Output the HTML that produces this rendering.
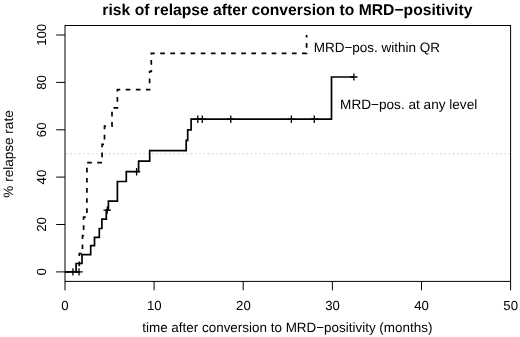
<!DOCTYPE html>
<html><head><meta charset="utf-8">
<style>
html,body{margin:0;padding:0;background:#fff;}
body{width:520px;height:337px;overflow:hidden;}
svg{display:block;will-change:transform;text-rendering:geometricPrecision;filter:blur(0.3px);}
text{font-family:"Liberation Sans",sans-serif;fill:#000;}
</style></head>
<body>
<svg width="520" height="337" viewBox="0 0 520 337">
<rect width="520" height="337" fill="#fff"/>
<!-- 50% reference line -->
<line x1="66" y1="153.6" x2="510" y2="153.6" stroke="#d8d8d8" stroke-width="1.2" stroke-dasharray="1.4 2.9"/>
<!-- box -->
<rect x="65" y="25.5" width="445.6" height="255.9" fill="none" stroke="#000" stroke-width="1"/>
<!-- ticks -->
<g stroke="#000" stroke-width="1">
<line x1="56.2" y1="271.9" x2="65" y2="271.9"/>
<line x1="56.2" y1="224.5" x2="65" y2="224.5"/>
<line x1="56.2" y1="177.1" x2="65" y2="177.1"/>
<line x1="56.2" y1="129.8" x2="65" y2="129.8"/>
<line x1="56.2" y1="82.4" x2="65" y2="82.4"/>
<line x1="56.2" y1="35.0" x2="65" y2="35.0"/>
<line x1="65" y1="281.4" x2="65" y2="290.3"/>
<line x1="154.1" y1="281.4" x2="154.1" y2="290.3"/>
<line x1="243.2" y1="281.4" x2="243.2" y2="290.3"/>
<line x1="332.4" y1="281.4" x2="332.4" y2="290.3"/>
<line x1="421.5" y1="281.4" x2="421.5" y2="290.3"/>
<line x1="510.6" y1="281.4" x2="510.6" y2="290.3"/>
</g>
<!-- dashed curve: MRD-pos. within QR -->
<path d="M65,271.9 H79.3 V253.7 H82.5 V235.5 H83.6 V217.2 H86.9 V162.6 H102.1 V144.4 H104.5 V126.1 H112 V107.9 H117.4 V89.7 H149.6 V71.5 H151.3 V53.3 H306.6 V35" fill="none" stroke="#000" stroke-width="1.7" stroke-dasharray="4.7 5.43" stroke-dashoffset="0.23"/>
<!-- solid curve: MRD-pos. at any level -->
<path d="M65,271.9 H76.1 V263.5 H82 V254.6 H90.7 V245.7 H94.5 V237.4 H99.3 V228.5 H101.9 V219.2 H106.3 V210.1 H108.4 V201.1 H117.4 V181.5 H126.3 V171.7 H138.6 V161.1 H149.7 V150.6 H186.2 V140.4 H187.7 V129.8 H191.1 V119.2 H331.5 V77 H353.9" fill="none" stroke="#000" stroke-width="1.7"/>
<!-- censor marks -->
<g stroke="#000" stroke-width="1.3">
<path d="M72.9,268.2V275.6M69.2,271.9H76.6"/>
<path d="M79,268.2V275.6M75.3,271.9H82.7"/>
<path d="M107.2,206.4V213.8M103.5,210.1H110.9"/>
<path d="M136.6,168V175.4M132.9,171.7H140.3"/>
<path d="M197.8,115.5V122.9M194.1,119.2H201.5"/>
<path d="M202.3,115.5V122.9M198.6,119.2H206"/>
<path d="M230.8,115.5V122.9M227.1,119.2H234.5"/>
<path d="M291.4,115.5V122.9M287.7,119.2H295.1"/>
<path d="M314.3,115.5V122.9M310.6,119.2H318"/>
<path d="M353.9,73.4V80.6M350.3,77H357.5"/>
</g>
<!-- title -->
<text x="287.4" y="14.6" font-size="15.7" font-weight="bold" text-anchor="middle">risk of relapse after conversion to MRD&#8722;positivity</text>
<!-- x tick labels -->
<g font-size="13.2" text-anchor="middle">
<text x="65" y="310.4">0</text>
<text x="154.3" y="310.4">10</text>
<text x="243.4" y="310.4">20</text>
<text x="332.5" y="310.4">30</text>
<text x="421.6" y="310.4">40</text>
<text x="510.7" y="310.4">50</text>
</g>
<!-- y tick labels -->
<g font-size="13.2" text-anchor="middle">
<text transform="translate(45.6,271.9) rotate(-90)">0</text>
<text transform="translate(45.6,224.5) rotate(-90)">20</text>
<text transform="translate(45.6,177.1) rotate(-90)">40</text>
<text transform="translate(45.6,129.8) rotate(-90)">60</text>
<text transform="translate(45.6,82.4) rotate(-90)">80</text>
<text transform="translate(45.6,34.8) rotate(-90)">100</text>
</g>
<!-- axis titles -->
<text x="287.3" y="331.7" font-size="13.45" text-anchor="middle">time after conversion to MRD&#8722;positivity (months)</text>
<text transform="translate(13.4,154) rotate(-90)" font-size="13.55" text-anchor="middle">% relapse rate</text>
<!-- legend labels -->
<text x="313.7" y="52.3" font-size="13.5">MRD&#8722;pos. within QR</text>
<text x="340.1" y="109.1" font-size="13.6">MRD&#8722;pos. at any level</text>
</svg>
</body></html>
